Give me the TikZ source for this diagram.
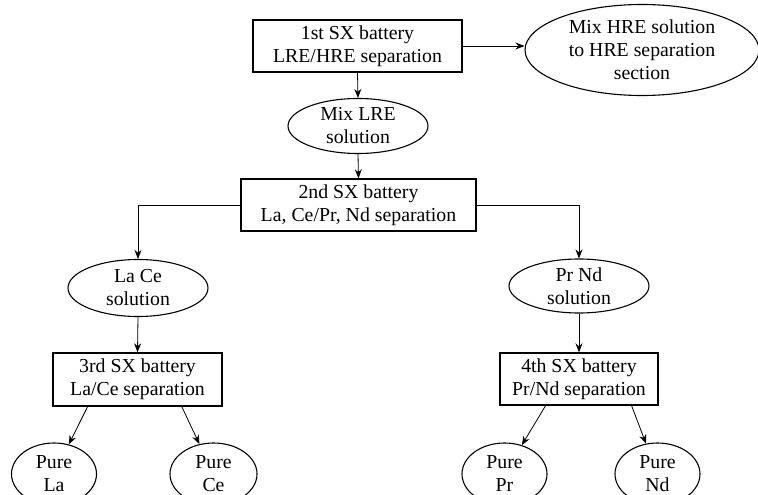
\documentclass[tikz,border=0pt]{standalone}
\usepackage{fontspec}
\setmainfont{Liberation Serif}
\usetikzlibrary{shapes.geometric,arrows.meta,calc}
\begin{document}
\begin{tikzpicture}[x=1pt,y=-1pt,
  every node/.style={font=\fontsize{19.8}{23}\selectfont, align=center, inner sep=0pt},
  stepbox/.style={draw, line width=1.4pt, rectangle},
  oval/.style={draw, line width=1.1pt, ellipse},
  conn/.style={line width=0.8pt, -{Stealth[length=9pt,width=7pt]}}]
\useasboundingbox (0,0) rectangle (758,495);
\node[stepbox, minimum width=209pt, minimum height=52pt] (b1) at (357.5,46) {1st SX battery\\LRE/HRE separation};
\node[oval, minimum width=234pt, minimum height=91pt] (hre) at (642,50) {Mix HRE solution\\to HRE separation\\section};
\node[oval, minimum width=140pt, minimum height=55pt] (lre) at (358,126) {Mix LRE\\solution};
\node[stepbox, minimum width=235pt, minimum height=52pt] (b2) at (358.5,205) {2nd SX battery\\La, Ce/Pr, Nd separation};
\node[oval, minimum width=140pt, minimum height=57pt] (lace) at (138,288) {La Ce\\solution};
\node[oval, minimum width=140pt, minimum height=54pt] (prnd) at (579,286) {Pr Nd\\solution};
\node[stepbox, minimum width=169pt, minimum height=53pt] (b3) at (137.5,379.5) {3rd SX battery\\La/Ce separation};
\node[stepbox, minimum width=158pt, minimum height=52pt] (b4) at (579,379) {4th SX battery\\Pr/Nd separation};
\node[oval, minimum width=85pt, minimum height=62pt] (pla) at (54,474) {Pure\\La};
\node[oval, minimum width=87pt, minimum height=62pt] (pce) at (213.5,474) {Pure\\Ce};
\node[oval, minimum width=85pt, minimum height=62pt] (ppr) at (504.5,474) {Pure\\Pr};
\node[oval, minimum width=85pt, minimum height=62pt] (pnd) at (657.5,474) {Pure\\Nd};
\draw[conn] (b1.east) -- (b1.east -| hre.west);
\draw[conn] (b1.south) -- (lre.north);
\draw[conn] (lre.south) -- (b2.north);
\draw[conn] (b2.west) -| (lace.north);
\draw[conn] (b2.east) -| (prnd.north);
\draw[conn] (lace.south) -- (b3.north);
\draw[conn] (prnd.south) -- (b4.north);
\coordinate (s1) at ($(b3.south west)!0.207!(b3.south east)$);
\coordinate (s2) at ($(b3.south west)!0.76!(b3.south east)$);
\coordinate (s3) at ($(b4.south west)!0.29!(b4.south east)$);
\coordinate (s4) at ($(b4.south west)!0.83!(b4.south east)$);
\draw[conn] (s1) -- (pla);
\draw[conn] (s2) -- (pce);
\draw[conn] (s3) -- (ppr);
\draw[conn] (s4) -- (pnd);
\end{tikzpicture}
\end{document}
